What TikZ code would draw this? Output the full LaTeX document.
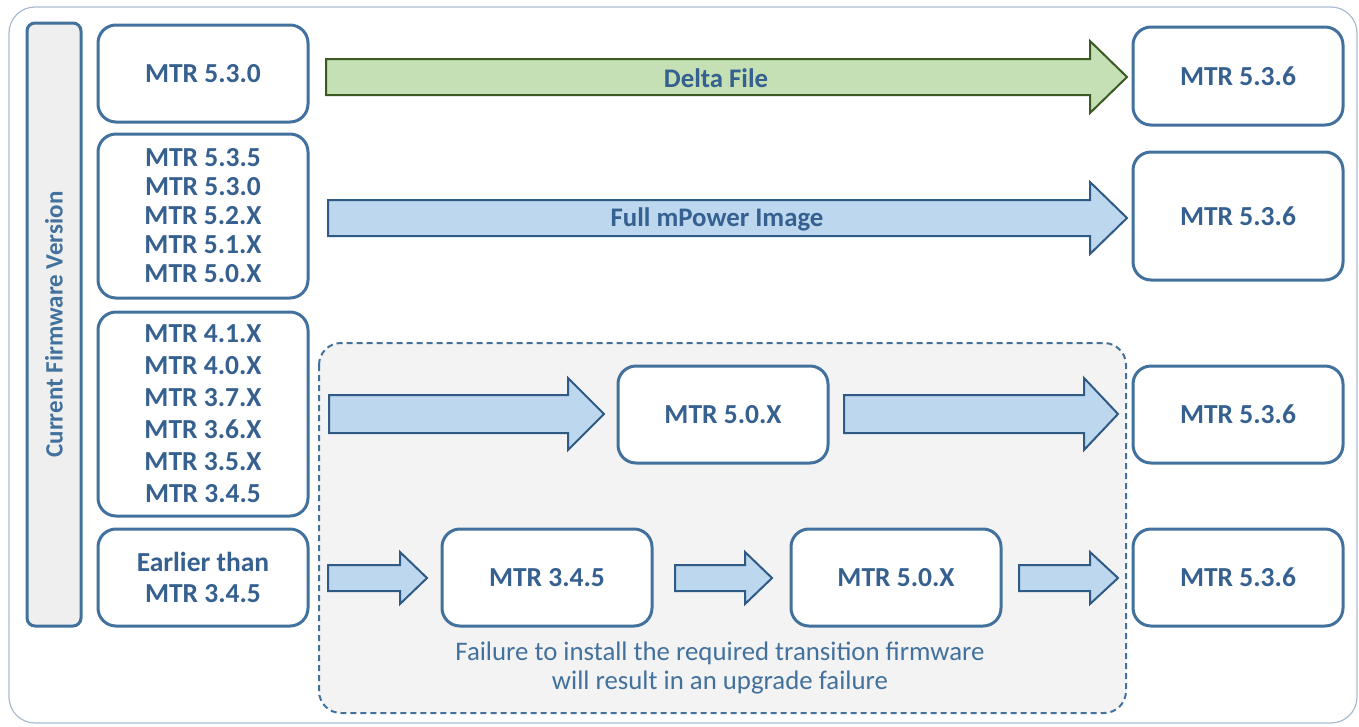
\documentclass[tikz,border=0pt]{standalone}
\usepackage{fontspec}
\setmainfont{Carlito}
\definecolor{bcol}{HTML}{41719C}
\definecolor{tcol}{HTML}{35608F}
\definecolor{framecol}{HTML}{A9BCCF}
\definecolor{barfill}{HTML}{EFEFEF}
\definecolor{grayfill}{HTML}{F3F3F3}
\definecolor{bluefill}{HTML}{BDD7EE}
\definecolor{bluestroke}{HTML}{2E5A85}
\definecolor{greenfill}{HTML}{C5E0B4}
\definecolor{greenstroke}{HTML}{3B5A22}
\newcommand{\blkarr}[7]{%
  \draw[#1] (#2,{#5-#6}) -- (#3,{#5-#6}) -- (#3,{#5-#7}) -- (#4,#5) -- (#3,{#5+#7}) -- (#3,{#5+#6}) -- (#2,{#5+#6}) -- cycle;}
\tikzset{
  verbox/.style={draw=bcol, line width=3pt, rounded corners=18pt, fill=white, align=center, text=tcol,
    font=\fontsize{27.5}{29}\selectfont\bfseries, inner sep=0pt, minimum width=210},
  bluearr/.style={fill=bluefill, draw=bluestroke, line width=2pt, line join=miter},
  greenarr/.style={fill=greenfill, draw=greenstroke, line width=2pt, line join=miter},
  arrlabel/.style={text=tcol, font=\fontsize{26.8}{30}\selectfont\bfseries, inner sep=0pt},
}
\begin{document}
\begin{tikzpicture}[x=1pt,y=-1pt]
\useasboundingbox (0,0) rectangle (1359,726);
% outer frame
\draw[framecol, line width=1.2pt, rounded corners=26pt] (9,7) rectangle (1357,723);
% dashed region
\draw[bcol, line width=2pt, dash pattern=on 6pt off 4pt, fill=grayfill, rounded corners=22pt] (319,343) rectangle (1126,713);
% vertical bar
\node[draw=bcol, line width=3pt, fill=barfill, rounded corners=8pt, minimum width=54, minimum height=603, inner sep=0pt] (bar) at (54,324.5) {};
\node[rotate=90, text=bcol, font=\fontsize{25}{29}\selectfont\bfseries] (bartxt) at (bar.center) {Current Firmware Version};
% left boxes
\node[verbox, minimum height=97] (l1) at (203,73.5) {MTR 5.3.0};
\node[verbox, minimum height=164] (l2) at (203,216) {MTR 5.3.5\\MTR 5.3.0\\MTR 5.2.X\\MTR 5.1.X\\MTR 5.0.X};
\node[verbox, minimum height=204, font=\fontsize{27.5}{32}\selectfont\bfseries] (l3) at (203,414) {MTR 4.1.X\\MTR 4.0.X\\MTR 3.7.X\\MTR 3.6.X\\MTR 3.5.X\\MTR 3.4.5};
\node[verbox, minimum height=97, font=\fontsize{27.5}{31}\selectfont\bfseries] (l4) at (203,577.5) {Earlier than\\MTR 3.4.5};
% right boxes
\node[verbox, minimum height=98] (r1) at (1238,76) {MTR 5.3.6};
\node[verbox, minimum height=128] (r2) at (1238,216) {MTR 5.3.6};
\node[verbox, minimum height=97] (r3) at (1238,414.5) {MTR 5.3.6};
\node[verbox, minimum height=97] (r4) at (1238,577.5) {MTR 5.3.6};
% middle boxes
\node[verbox, minimum height=97] (m1) at (723,414.5) {MTR 5.0.X};
\node[verbox, minimum height=97] (m2) at (547,577.5) {MTR 3.4.5};
\node[verbox, minimum height=97] (m3) at (896,577.5) {MTR 5.0.X};
% arrows
\blkarr{greenarr}{326}{1090}{1127}{77}{18}{36}
\node[arrlabel] (dl) at (716,78) {Delta File};
\blkarr{bluearr}{328}{1090}{1127}{218}{18}{36}
\node[arrlabel] (fl) at (717,219) {Full mPower Image};
\blkarr{bluearr}{329}{568}{604}{414}{19}{36}
\blkarr{bluearr}{844}{1084}{1118}{414}{19}{36}
\blkarr{bluearr}{328}{400}{427}{578}{13}{26}
\blkarr{bluearr}{675}{745}{772}{578}{13}{26}
\blkarr{bluearr}{1019}{1090}{1118}{578}{13}{26}
% caption
\node[text=bcol, align=center, font=\fontsize{26.8}{29}\selectfont, inner sep=0pt] (cap) at (720,668) {Failure to install the required transition firmware\\will result in an upgrade failure};
\end{tikzpicture}
\end{document}
